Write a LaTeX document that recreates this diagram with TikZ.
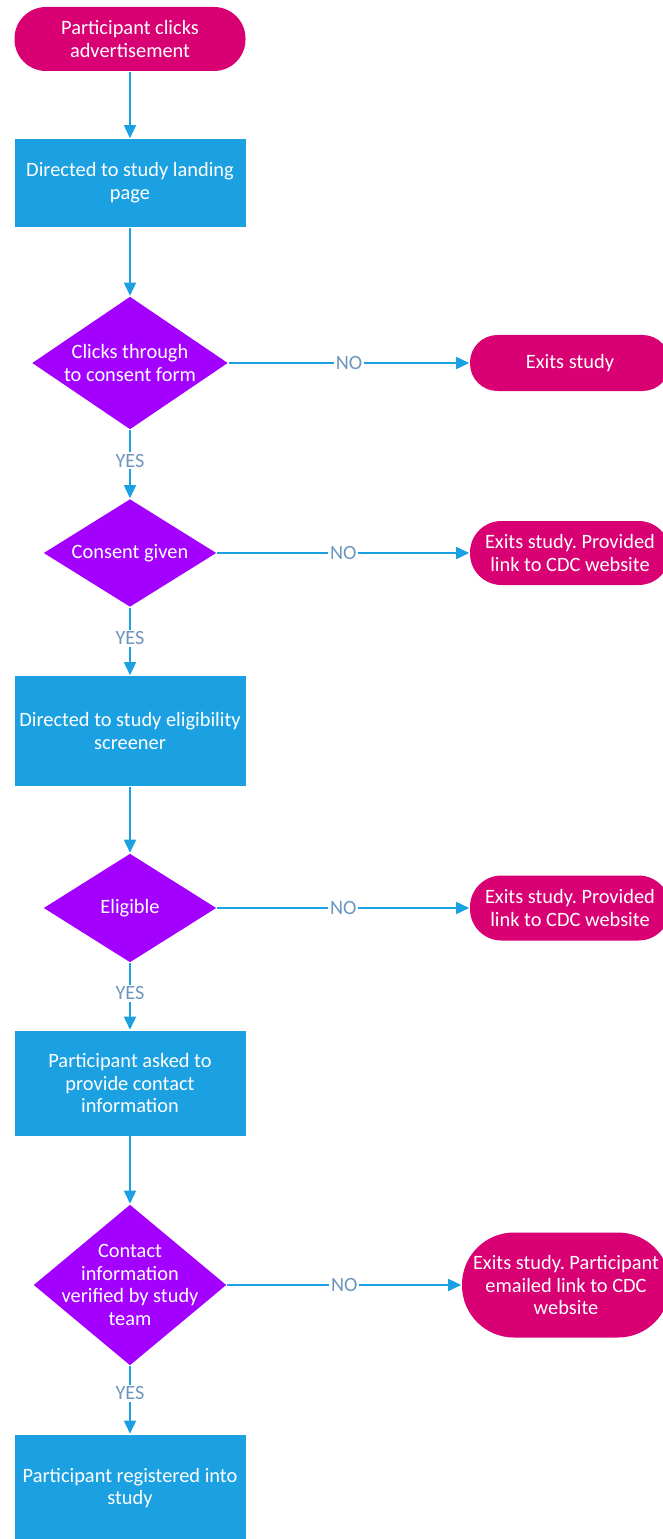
\documentclass[tikz,border=0pt]{standalone}
\usepackage{fontspec}
\setmainfont{Carlito}
\frenchspacing
\usetikzlibrary{arrows.meta,shapes.geometric}

\definecolor{pinkfill}{HTML}{D80073}
\definecolor{cyanfill}{HTML}{1BA1E2}
\definecolor{violetfill}{HTML}{A400FF}
\definecolor{labelgray}{HTML}{6E95BD}

\begin{document}
\begin{tikzpicture}[-{Triangle[length=0.26cm,width=0.24cm]},node distance=3.6cm,
  line width=0.9pt,
  term node/.style={rectangle,fill=pinkfill,text=white,align=center,inner sep=0pt,
    minimum width=4cm,minimum height=1.28cm,rounded corners=0.63cm,
    font=\fontsize{11.6}{13}\selectfont},
  proc node/.style={rectangle,fill=cyanfill,text=white,align=center,inner sep=0pt,
    minimum width=4.62cm,font=\fontsize{11.6}{13}\selectfont},
  dec node/.style={diamond,fill=violetfill,inner sep=0pt},
  dec text/.style={text=white,align=center,font=\fontsize{11.6}{13}\selectfont},
  yes node/.style={fill=white,text=labelgray,inner sep=1pt,anchor=center,
    font=\fontsize{11.5}{13}\selectfont}]
  \useasboundingbox (0,0) rectangle (13.26,-30.78);

  \node[term node,minimum width=4.62cm] (1) at (2.6,-0.78) {Participant clicks\\advertisement};
  \node[proc node,minimum height=1.76cm] (2) [below of=1,node distance=2.88cm] {Directed to study landing\\page};
  \node[dec node,minimum width=3.92cm,minimum height=2.66cm,
    label={[dec text]center:Clicks through\\to consent form}] (3) [below of=2,node distance=3.6cm] {};
  \node[dec node,minimum width=3.46cm,minimum height=2.16cm,
    label={[dec text]center:Consent given}] (4) [below of=3,node distance=3.8cm] {};
  \node[proc node,minimum height=2.2cm] (5) [below of=4,node distance=3.56cm] {Directed to study eligibility\\screener};
  \node[dec node,minimum width=3.46cm,minimum height=2.18cm,
    label={[dec text]center:Eligible}] (6) [below of=5,node distance=3.54cm] {};
  \node[proc node,minimum height=2.1cm] (7) [below of=6,node distance=3.5cm] {Participant asked to\\provide contact\\information};
  \node[dec node,minimum width=3.86cm,minimum height=3.22cm,
    label={[dec text]center:Contact\\information\\verified by study\\team}] (8) [below of=7,node distance=4.04cm] {};
  \node[proc node,minimum height=2.14cm] (9) [below of=8,node distance=4.06cm] {Participant registered into\\study};

  \node[term node,minimum height=1.12cm,rounded corners=0.55cm] (e1) [right of=3,node distance=8.8cm] {Exits study};
  \node[term node] (e2) [right of=4,node distance=8.8cm] {Exits study. Provided\\link to CDC website};
  \node[term node,minimum height=1.3cm] (e3) [right of=6,node distance=8.8cm] {Exits study. Provided\\link to CDC website};
  \node[term node,minimum width=4.16cm,minimum height=2.1cm,rounded corners=1.04cm] (e4) [right of=8,node distance=8.72cm] {Exits study. Participant\\emailed link to CDC\\website};

  \path[color=cyanfill,every node/.style={yes node}]
    (1) edge (2)
    (2) edge (3)
    (3) edge node[pos=0.45] {YES} (4)
    (4) edge node[pos=0.45] {YES} (5)
    (5) edge (6)
    (6) edge node[pos=0.45] {YES} (7)
    (7) edge (8)
    (8) edge node[pos=0.4] {YES} (9)

    (3) edge node[pos=0.5] {NO} (e1)
    (4) edge node[pos=0.5] {NO} (e2)
    (6) edge node[pos=0.5] {NO} (e3)
    (8) edge node[pos=0.5] {NO} (e4);
\end{tikzpicture}
\end{document}
